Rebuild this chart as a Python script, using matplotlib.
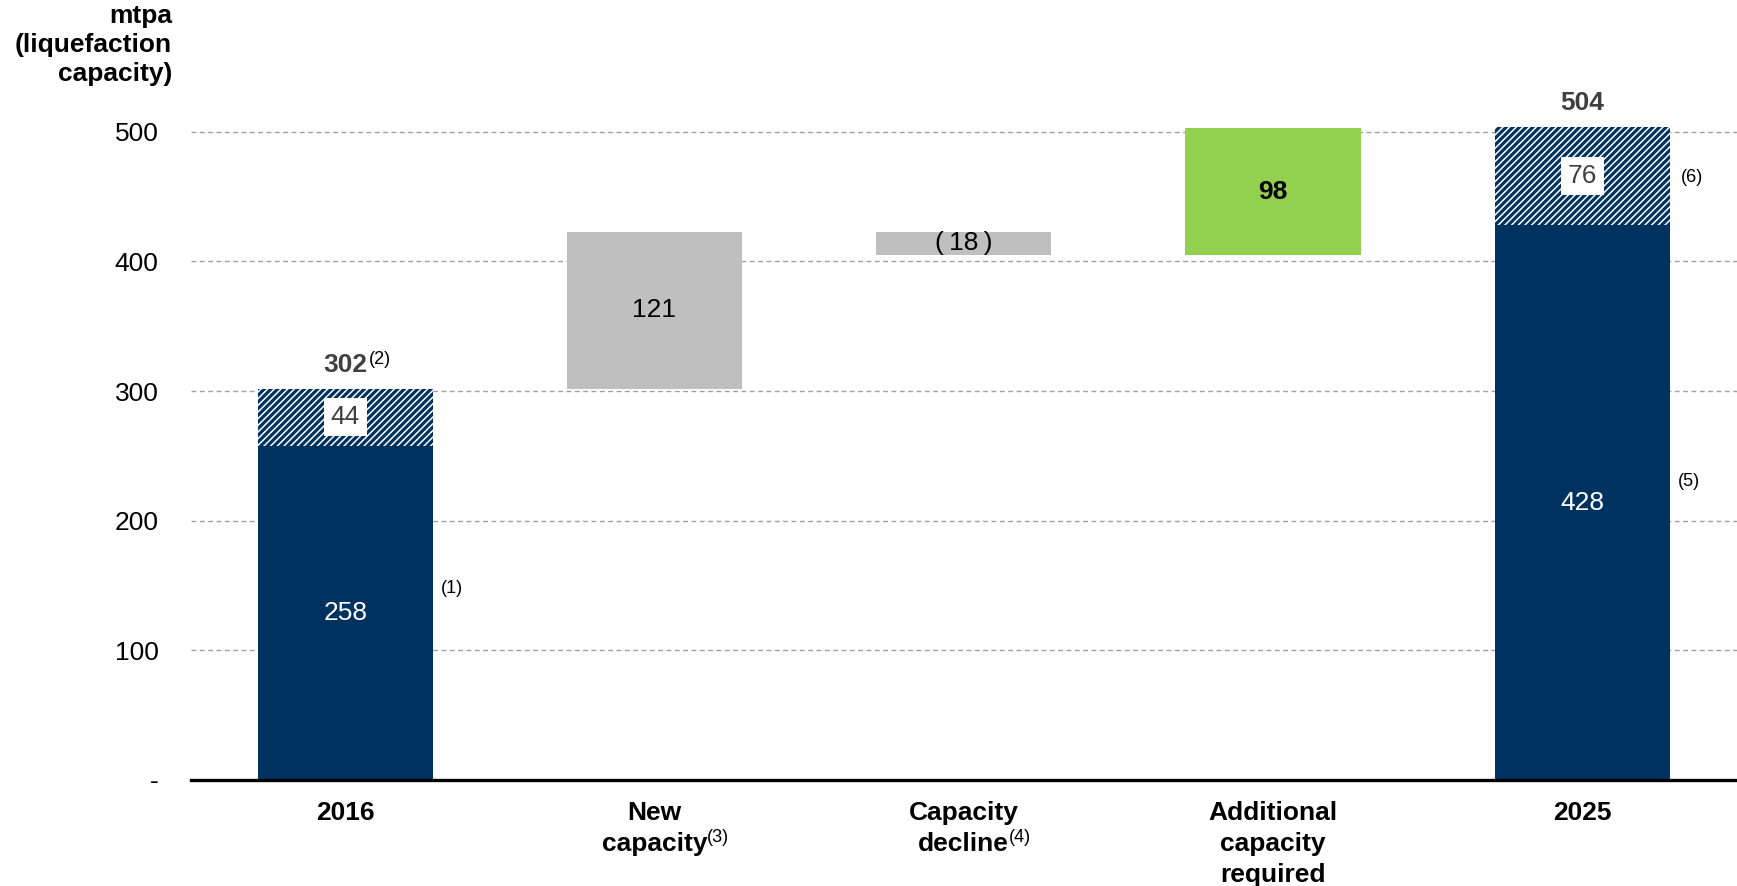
import matplotlib
matplotlib.use("Agg")
import matplotlib.pyplot as plt
from matplotlib.ticker import FixedLocator, FuncFormatter

plt.rcParams.update({
    "font.family": ["Liberation Sans", "DejaVu Sans"],
    "font.size": 19,
    "hatch.linewidth": 2.3,
})

NAVY = "#003260"
GREY = "#BFBFBF"
GREEN = "#92D050"
DARK = "#404040"

categories = ["2016", "New\ncapacity", "Capacity\ndecline", "Additional\ncapacity\nrequired", "2025"]
cat_notes = ["", "(3)", "(4)", "", ""]

base_2016 = 258      # solid part
extra_2016 = 44      # hatched part
new_capacity = 121
capacity_decline = 18
additional_required = 98
base_2025 = 428
extra_2025 = 76

total_2016 = base_2016 + extra_2016
total_2025 = base_2025 + extra_2025
decline_top = total_2016 + new_capacity
decline_bottom = decline_top - capacity_decline

fig = plt.figure(figsize=(17.37, 8.86), dpi=100)
ax = fig.add_axes([0.1097, 0.1197, 0.8903, 0.7607])
ax.set_xlim(-0.5, 4.5)
ax.set_ylim(0, 520)

w = 0.567
x = list(range(len(categories)))
HATCH = "/////"

# 2016 stack
ax.bar(x[0], base_2016, w, color=NAVY, linewidth=0, zorder=2)
ax.bar(x[0], extra_2016, w, bottom=base_2016, facecolor="white", edgecolor=NAVY,
       linewidth=0, hatch=HATCH, zorder=2)
# waterfall steps
ax.bar(x[1], new_capacity, w, bottom=total_2016, color=GREY, linewidth=0, zorder=2)
ax.bar(x[2], capacity_decline, w, bottom=decline_bottom, color=GREY, linewidth=0, zorder=2)
ax.bar(x[3], additional_required, w, bottom=decline_bottom, color=GREEN, linewidth=0, zorder=2)
# 2025 stack
ax.bar(x[4], base_2025, w, color=NAVY, linewidth=0, zorder=2)
ax.bar(x[4], extra_2025, w, bottom=base_2025, facecolor="white", edgecolor=NAVY,
       linewidth=0, hatch=HATCH, zorder=2)

# value labels
ax.text(x[0], base_2016 / 2, f"{base_2016}", ha="center", va="center", color="white", zorder=4)
ax.text(x[4], base_2025 / 2, f"{base_2025}", ha="center", va="center", color="white", zorder=4)
box = dict(facecolor="white", edgecolor="none", pad=5)
ax.text(x[0], base_2016 + extra_2016 / 2, f"{extra_2016}", ha="center", va="center",
        color=DARK, bbox=box, zorder=4)
ax.text(x[4], base_2025 + extra_2025 / 2, f"{extra_2025}", ha="center", va="center",
        color=DARK, bbox=box, zorder=4)
ax.text(x[1], total_2016 + new_capacity / 2, f"{new_capacity}", ha="center", va="center",
        color="black", zorder=4)
ax.text(x[2], decline_bottom + capacity_decline / 2, f"(\u2009{capacity_decline}\u2009)",
        ha="center", va="center", color="black", zorder=4)
ax.text(x[3], decline_bottom + additional_required / 2, f"{additional_required}",
        ha="center", va="center", color="black", fontweight="bold", zorder=4)

t302 = ax.text(x[0], total_2016 + 9, f"{total_2016}", ha="center", va="bottom",
               color=DARK, fontweight="bold")
ax.annotate("(2)", xy=(1, 1), xycoords=t302, xytext=(1, 1), textcoords="offset points",
            ha="left", va="top", fontsize=13, color="black")
ax.text(x[4], total_2025 + 9, f"{total_2025}", ha="center", va="bottom",
        color=DARK, fontweight="bold")

# footnote markers beside the stacked bars
ax.text(x[0] + 0.31, 148, "(1)", ha="left", va="center", fontsize=13)
ax.text(x[4] + 0.31, 230, "(5)", ha="left", va="center", fontsize=13)
ax.text(x[4] + 0.32, 465, "(6)", ha="left", va="center", fontsize=13)

# category labels, one line at a time so the note sits on the last line
ax.set_xticks([])
for xi, label, note in zip(x, categories, cat_notes):
    last = None
    for i, line in enumerate(label.split("\n")):
        last = ax.annotate(line, xy=(xi, 0), xycoords=("data", "axes fraction"),
                           xytext=(0, -15 - i * 22.4), textcoords="offset points",
                           ha="center", va="top", fontweight="bold", annotation_clip=False)
    if note:
        ax.annotate(note, xy=(1, 1), xycoords=last, xytext=(0, 2), textcoords="offset points",
                    ha="left", va="top", fontsize=13)

# y axis
ax.yaxis.set_major_locator(FixedLocator([0, 100, 200, 300, 400, 500]))
ax.yaxis.set_major_formatter(FuncFormatter(lambda v, p: "-" if v == 0 else f"{v:.0f}"))
ax.tick_params(axis="y", length=0, pad=23)
ax.yaxis.grid(True, color="#A0A0A0", linestyle=(0, (3.5, 2.5)), linewidth=1.0)
ax.set_axisbelow(True)
for side in ("left", "right", "top"):
    ax.spines[side].set_visible(False)
ax.spines["bottom"].set_linewidth(2.4)
ax.spines["bottom"].set_zorder(5)

fig.text(172 / 1737, 1 - 4 / 886, "mtpa\n(liquefaction\ncapacity)", ha="right", va="top",
         fontweight="bold", linespacing=1.25)

fig.savefig("out.png", dpi=100)
